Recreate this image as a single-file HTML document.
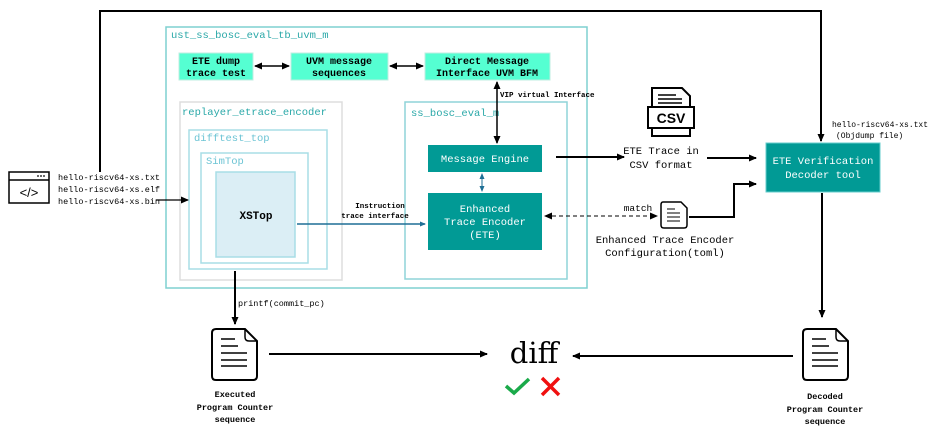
<!DOCTYPE html>
<html><head><meta charset="utf-8"><style>
html,body{margin:0;padding:0;background:#fff;}
svg{display:block;font-family:"Liberation Mono","Noto Sans CJK SC",monospace;}
</style></head><body>
<svg width="940" height="433" viewBox="0 0 940 433" xmlns="http://www.w3.org/2000/svg">
<defs>
<marker id="a" markerWidth="8" markerHeight="8" refX="7" refY="4" orient="auto" markerUnits="userSpaceOnUse"><path d="M0,0.5 L8,4 L0,7.5 Z" fill="#000"/></marker>
<marker id="as" markerWidth="8" markerHeight="8" refX="1" refY="4" orient="auto" markerUnits="userSpaceOnUse"><path d="M8,0.5 L0,4 L8,7.5 Z" fill="#000"/></marker>
<marker id="ab" markerWidth="6" markerHeight="6" refX="5" refY="3" orient="auto" markerUnits="userSpaceOnUse"><path d="M0,0.5 L6,3 L0,5.5 Z" fill="#1f6f95"/></marker>
<marker id="abs" markerWidth="6" markerHeight="6" refX="1" refY="3" orient="auto" markerUnits="userSpaceOnUse"><path d="M6,0.5 L0,3 L6,5.5 Z" fill="#1f6f95"/></marker>
</defs>
<!-- top feedback line -->
<polyline points="100,172 100,11 821,11 821,141" fill="none" stroke="#000" stroke-width="2" marker-end="url(#a)"/>
<!-- outer box -->
<rect x="166" y="27" width="421" height="261" fill="none" stroke="#7fd0d0" stroke-width="1.5"/>
<text x="171" y="38" font-size="10.5" fill="#2aa8a8">ust_ss_bosc_eval_tb_uvm_m</text>
<rect x="179" y="53" width="74" height="27" fill="#55ffd2" stroke="#bfeee0"/>
<text x="216" y="64" font-size="10" font-weight="bold" text-anchor="middle">ETE dump</text>
<text x="216" y="76" font-size="10" font-weight="bold" text-anchor="middle">trace test</text>
<rect x="291" y="53" width="97" height="27" fill="#55ffd2" stroke="#bfeee0"/>
<text x="339" y="64" font-size="10" font-weight="bold" text-anchor="middle">UVM message</text>
<text x="339" y="76" font-size="10" font-weight="bold" text-anchor="middle">sequences</text>
<rect x="425" y="53" width="125" height="27" fill="#55ffd2" stroke="#bfeee0"/>
<text x="487" y="64" font-size="10" font-weight="bold" text-anchor="middle">Direct Message</text>
<text x="487" y="76" font-size="10" font-weight="bold" text-anchor="middle">Interface UVM BFM</text>
<line x1="255" y1="66" x2="289" y2="66" stroke="#000" stroke-width="1.5" marker-start="url(#as)" marker-end="url(#a)"/>
<line x1="390" y1="66" x2="423" y2="66" stroke="#000" stroke-width="1.5" marker-start="url(#as)" marker-end="url(#a)"/>
<!-- replayer -->
<rect x="180" y="102" width="162" height="178" fill="none" stroke="#ddd" stroke-width="1.5"/>
<text x="182" y="115" font-size="10.5" fill="#2aa8a8">replayer_etrace_encoder</text>
<rect x="189" y="130" width="138" height="139" fill="none" stroke="#a8dde6" stroke-width="1.5"/>
<text x="194" y="141" font-size="10.5" fill="#6cc4d4">difftest_top</text>
<rect x="201" y="153" width="107" height="110" fill="none" stroke="#a8dde6" stroke-width="1.5"/>
<text x="206" y="164" font-size="10.5" fill="#6cc4d4">SimTop</text>
<rect x="216" y="172" width="79" height="85" fill="#dbeef5" stroke="#a8dde6" stroke-width="1.5"/>
<text x="256" y="219" font-size="11" font-weight="bold" text-anchor="middle">XSTop</text>
<!-- ss_bosc -->
<rect x="405" y="102" width="162" height="177" fill="none" stroke="#8fd4d8" stroke-width="1.5"/>
<text x="411" y="116" font-size="10.5" fill="#2aa8a8">ss_bosc_eval_m</text>
<rect x="428" y="145" width="114" height="27" fill="#019a95"/>
<text x="485" y="162" font-size="10.5" fill="#fff" text-anchor="middle">Message Engine</text>
<rect x="428" y="193" width="114" height="57" fill="#019a95"/>
<text x="485" y="212" font-size="10.5" fill="#fff" text-anchor="middle">Enhanced</text>
<text x="485" y="225" font-size="10.5" fill="#fff" text-anchor="middle">Trace Encoder</text>
<text x="485" y="238" font-size="10.5" fill="#fff" text-anchor="middle">(ETE)</text>
<line x1="482" y1="174" x2="482" y2="191" stroke="#1f6f95" stroke-width="1" marker-start="url(#abs)" marker-end="url(#ab)"/>
<line x1="497" y1="82" x2="497" y2="143" stroke="#000" stroke-width="1.5" marker-start="url(#as)" marker-end="url(#a)"/>
<text x="500" y="97" font-size="7.5" font-weight="bold">VIP virtual Interface</text>
<line x1="297" y1="224" x2="425" y2="224" stroke="#1f6f95" stroke-width="1.5" marker-end="url(#ab)"/>
<text x="380" y="208" font-size="7.5" font-weight="bold" text-anchor="middle">Instruction</text>
<text x="375" y="218" font-size="7.5" font-weight="bold" text-anchor="middle">trace interface</text>
<!-- CSV -->
<line x1="556" y1="157" x2="624" y2="157" stroke="#000" stroke-width="2" marker-end="url(#a)"/>
<path d="M652,88 H682 L690,96 V136 H652 Z" fill="#fff" stroke="#000" stroke-width="2"/>
<line x1="658" y1="95" x2="676" y2="95" stroke="#000" stroke-width="1.5"/>
<line x1="658" y1="99" x2="682" y2="99" stroke="#000" stroke-width="1.5"/>
<line x1="658" y1="103" x2="682" y2="103" stroke="#000" stroke-width="1.5"/>
<rect x="648" y="107" width="46" height="21" fill="#fff" stroke="#000" stroke-width="2"/>
<text x="671" y="123" font-family="Liberation Sans,sans-serif" font-size="14" font-weight="bold" text-anchor="middle">CSV</text>
<text x="661" y="154" font-size="10.5" text-anchor="middle">ETE Trace in</text>
<text x="661" y="168" font-size="10.5" text-anchor="middle">CSV format</text>
<line x1="707" y1="158" x2="756" y2="158" stroke="#000" stroke-width="2" marker-end="url(#a)"/>
<!-- decoder -->
<rect x="766" y="143" width="114" height="49" fill="#019a95" stroke="#6cc"/>
<text x="823" y="164" font-size="10.5" fill="#fff" text-anchor="middle">ETE Verification</text>
<text x="823" y="178" font-size="10.5" fill="#fff" text-anchor="middle">Decoder tool</text>
<text x="832" y="127" font-size="8">hello-riscv64-xs.txt</text>
<text x="836" y="138" font-size="8">(Objdump file)</text>
<!-- config -->
<line x1="545" y1="216" x2="657" y2="216" stroke="#000" stroke-width="1" stroke-dasharray="4,3" marker-start="url(#as)" marker-end="url(#a)"/>
<text x="638" y="211" font-size="9.5" text-anchor="middle">match</text>
<path d="M663,202 Q661,202 661,205 V225 Q661,228 664,228 H684 Q687,228 687,225 V208 L681,202 Z" fill="#fff" stroke="#000" stroke-width="1.5"/>
<line x1="667" y1="209" x2="675" y2="209" stroke="#000"/><line x1="667" y1="213" x2="680" y2="213" stroke="#000"/><line x1="667" y1="217" x2="680" y2="217" stroke="#000"/><line x1="667" y1="221" x2="680" y2="221" stroke="#000"/>
<polyline points="689,217 734,217 734,184 756,184" fill="none" stroke="#000" stroke-width="2" marker-end="url(#a)"/>
<text x="665" y="243" font-size="10.5" text-anchor="middle">Enhanced Trace Encoder</text>
<text x="665" y="256" font-size="10.5" text-anchor="middle">Configuration(toml)</text>
<!-- code icon -->
<rect x="9" y="172" width="40" height="31" fill="#fff" stroke="#000" stroke-width="1.5"/>
<line x1="9" y1="180" x2="49" y2="180" stroke="#000" stroke-width="1.5"/>
<circle cx="38" cy="176" r="0.9"/><circle cx="41" cy="176" r="0.9"/><circle cx="44" cy="176" r="0.9"/>
<text x="29" y="197" font-family="Liberation Sans,sans-serif" font-size="13" text-anchor="middle">&lt;/&gt;</text>
<text x="58" y="180" font-size="8.5">hello-riscv64-xs.txt</text>
<text x="58" y="192" font-size="8.5">hello-riscv64-xs.elf</text>
<text x="58" y="204" font-size="8.5">hello-riscv64-xs.bin</text>
<line x1="156" y1="200" x2="188" y2="200" stroke="#000" stroke-width="1.2" marker-end="url(#a)"/>
<!-- executed -->
<line x1="235" y1="271" x2="235" y2="324" stroke="#000" stroke-width="2" marker-end="url(#a)"/>
<text x="238" y="306" font-size="8.5">printf(commit_pc)</text>
<path d="M216,329 H245 L257,341 V376 Q257,380 253,380 H216 Q212,380 212,376 V333 Q212,329 216,329 Z" fill="#fff" stroke="#000" stroke-width="2"/>
<path d="M245,329 V337 Q245,341 249,341 H257" fill="none" stroke="#000" stroke-width="1.5"/>
<line x1="221" y1="339" x2="235" y2="339" stroke="#000" stroke-width="1.5"/><line x1="221" y1="346" x2="238" y2="346" stroke="#000" stroke-width="1.5"/><line x1="221" y1="353" x2="247" y2="353" stroke="#000" stroke-width="1.5"/><line x1="221" y1="360" x2="247" y2="360" stroke="#000" stroke-width="1.5"/><line x1="221" y1="366" x2="247" y2="366" stroke="#000" stroke-width="1.5"/>
<text x="235" y="397" font-size="8.5" font-weight="bold" text-anchor="middle">Executed</text>
<text x="235" y="410" font-size="8.5" font-weight="bold" text-anchor="middle">Program Counter</text>
<text x="235" y="422" font-size="8.5" font-weight="bold" text-anchor="middle">sequence</text>
<line x1="269" y1="354" x2="487" y2="354" stroke="#000" stroke-width="2" marker-end="url(#a)"/>
<!-- diff -->
<text x="534" y="363" font-family="DejaVu Serif,serif" font-size="29" text-anchor="middle">diff</text>
<path d="M506,386 L514,393 L529,379" fill="none" stroke="#1aaa4a" stroke-width="3.5"/>
<path d="M542,378 L559,395 M559,378 L542,395" stroke="#f01010" stroke-width="3.5"/>
<line x1="793" y1="356" x2="573" y2="356" stroke="#000" stroke-width="2" marker-end="url(#a)"/>
<!-- decoded -->
<line x1="822" y1="193" x2="822" y2="317" stroke="#000" stroke-width="2" marker-end="url(#a)"/>
<path d="M807,329 H836 L848,341 V376 Q848,380 844,380 H807 Q803,380 803,376 V333 Q803,329 807,329 Z" fill="#fff" stroke="#000" stroke-width="2"/>
<path d="M836,329 V337 Q836,341 840,341 H848" fill="none" stroke="#000" stroke-width="1.5"/>
<line x1="812" y1="339" x2="826" y2="339" stroke="#000" stroke-width="1.5"/><line x1="812" y1="346" x2="829" y2="346" stroke="#000" stroke-width="1.5"/><line x1="812" y1="353" x2="838" y2="353" stroke="#000" stroke-width="1.5"/><line x1="812" y1="360" x2="838" y2="360" stroke="#000" stroke-width="1.5"/><line x1="812" y1="366" x2="838" y2="366" stroke="#000" stroke-width="1.5"/>
<text x="825" y="399" font-size="8.5" font-weight="bold" text-anchor="middle">Decoded</text>
<text x="825" y="412" font-size="8.5" font-weight="bold" text-anchor="middle">Program Counter</text>
<text x="825" y="424" font-size="8.5" font-weight="bold" text-anchor="middle">sequence</text>
</svg>
</body></html>
